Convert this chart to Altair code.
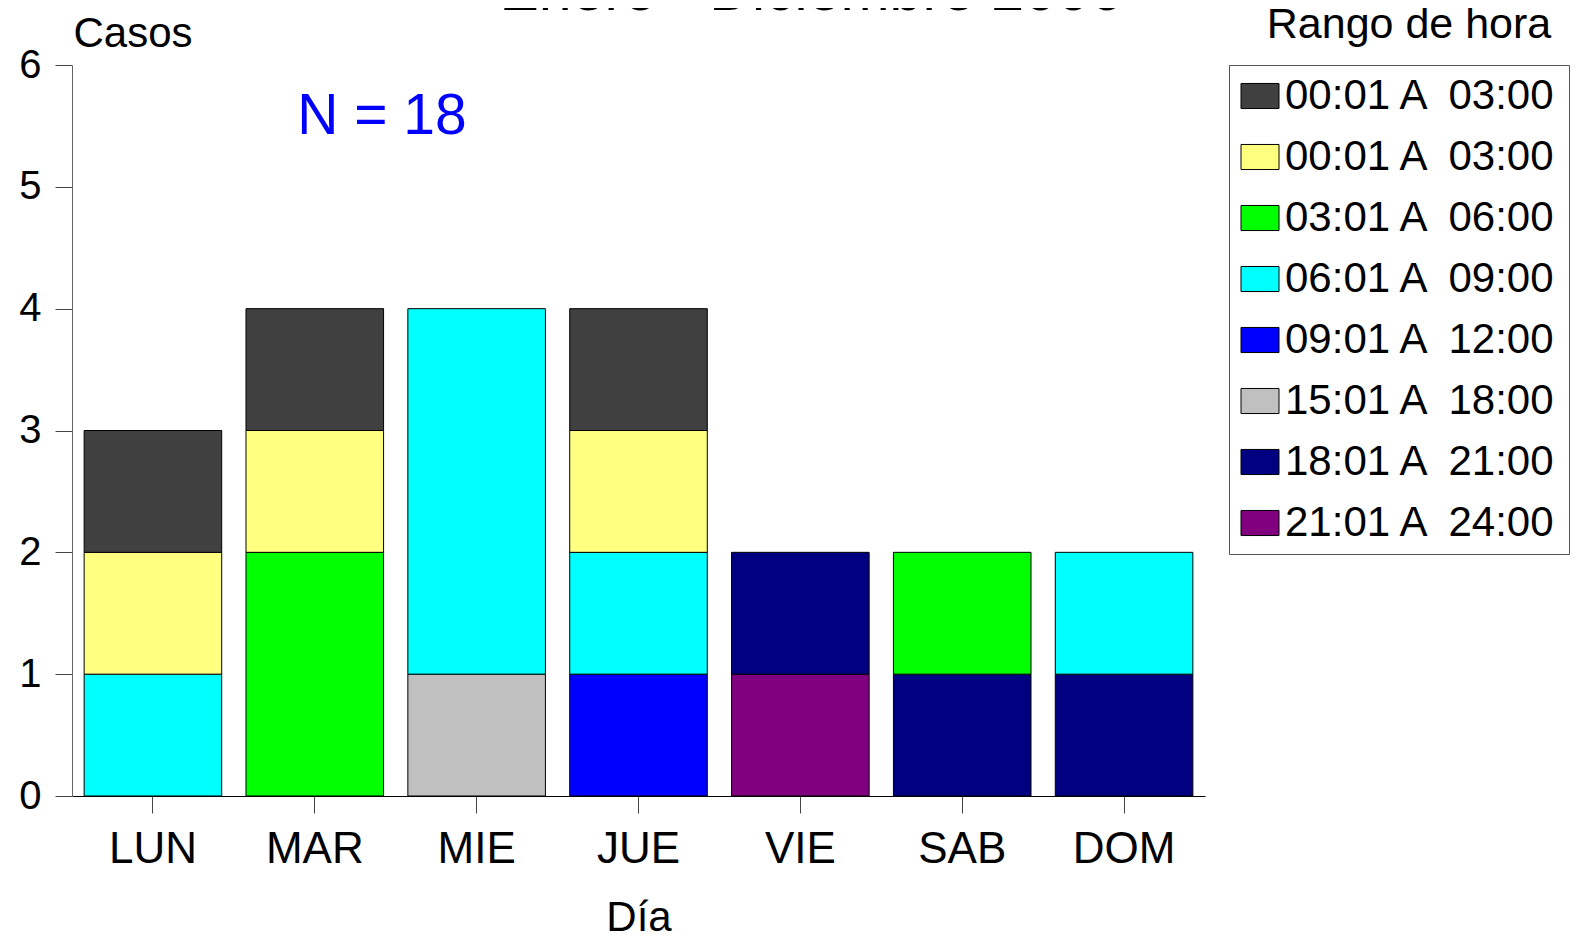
import altair as alt
import pandas as pd

# ---- data ----
dias = ["LUN", "MAR", "MIE", "JUE", "VIE", "SAB", "DOM"]
rango_keys = ["R1", "R2", "R3", "R4", "R5", "R6", "R7", "R8"]
rango_labels = [
    "00:01 A \u00a003:00",
    "00:01 A \u00a003:00",
    "03:01 A \u00a006:00",
    "06:01 A \u00a009:00",
    "09:01 A \u00a012:00",
    "15:01 A \u00a018:00",
    "18:01 A \u00a021:00",
    "21:01 A \u00a024:00",
]
rango_colors = ["#404040", "#ffff80", "#00ff00", "#00ffff", "#0000ff", "#c0c0c0", "#000080", "#800080"]

rec_dia = ["LUN", "LUN", "LUN", "MAR", "MAR", "MAR", "MIE", "MIE",
           "JUE", "JUE", "JUE", "JUE", "VIE", "VIE", "SAB", "SAB", "DOM", "DOM"]
rec_rango = ["R4", "R2", "R1", "R3", "R2", "R1", "R6", "R4",
             "R5", "R4", "R2", "R1", "R8", "R7", "R7", "R3", "R7", "R4"]
rec_casos = [1, 1, 1, 2, 1, 1, 1, 3,
             1, 1, 1, 1, 1, 1, 1, 1, 1, 1]

n_total = 18
titulo = "Enero - Diciembre 2006"
y_ticks = [0, 1, 2, 3, 4, 5, 6]

df = pd.DataFrame({
    "dia": rec_dia,
    "rango": rec_rango,
    "casos": rec_casos,
    "orden": [rango_keys.index(r) for r in rec_rango],
})

FONT = "Liberation Sans"

label_expr = "[" + ",".join("'" + l + "'" for l in rango_labels) + "][indexof([" + \
    ",".join("'" + k + "'" for k in rango_keys) + "], datum.label)]"

bars = alt.Chart(df).mark_bar(stroke="black", strokeWidth=1, opacity=1).encode(
    x=alt.X("dia:N", sort=dias, scale=alt.Scale(domain=dias, paddingInner=0.15),
            axis=alt.Axis(labelAngle=0, labelFontSize=44, labelFont=FONT, labelColor="black",
                          labelPadding=14, tickSize=17, tickColor="#444", domainColor="black",
                          title="Día", titleFontSize=42, titleFont=FONT, titleFontWeight="normal",
                          titleColor="black", titleY=134, titleBaseline="alphabetic")),
    y=alt.Y("sum(casos):Q", stack="zero", scale=alt.Scale(domain=[0, 6], nice=False),
            axis=alt.Axis(values=y_ticks, grid=False, labelFontSize=40, labelFont=FONT,
                          labelColor="black", labelPadding=14, tickSize=17, tickColor="#444",
                          domainColor="#666", title="Casos", titleAngle=0, titleAlign="left",
                          titleX=1, titleY=-32, titleBaseline="middle", titleFontSize=42,
                          titleFont=FONT, titleFontWeight="normal", titleColor="black")),
    color=alt.Color("rango:N", scale=alt.Scale(domain=rango_keys, range=rango_colors),
                    legend=alt.Legend(orient="none", legendX=1157, legendY=0, title=None,
                                      symbolType="M-1,-0.66L1,-0.66L1,0.66L-1,0.66Z",
                                      symbolSize=1444, symbolStrokeColor="black",
                                      symbolStrokeWidth=1, symbolOpacity=1,
                                      labelFontSize=42, labelFont=FONT, labelColor="black",
                                      labelOffset=4, labelLimit=500, rowPadding=19, padding=10,
                                      strokeColor="#555", labelExpr=label_expr)),
    order=alt.Order("orden:Q", sort="descending"),
)

n_text = alt.Chart(pd.DataFrame({"t": ["N = " + str(n_total)]})).mark_text(
    font=FONT, fontSize=57, color="#0000ff", align="center", baseline="middle"
).encode(text="t:N", x=alt.value(310), y=alt.value(52))

title_text = alt.Chart(pd.DataFrame({"t": [titulo]})).mark_text(
    font=FONT, fontSize=59, color="black", align="center", baseline="alphabetic"
).encode(text="t:N", x=alt.value(739), y=alt.value(-55))

legend_title = alt.Chart(pd.DataFrame({"t": ["Rango de hora"]})).mark_text(
    font=FONT, fontSize=43, color="black", align="center", baseline="middle"
).encode(text="t:N", x=alt.value(1337), y=alt.value(-40))

chart = alt.layer(bars, n_text, title_text, legend_title).properties(
    width=1133, height=731,
    autosize=alt.AutoSizeParams(type="none"),
    padding={"left": 64, "top": 57, "right": 370, "bottom": 135},
    background="white",
).configure_view(stroke=None)

chart.save("out.html", embed_options={"renderer": "svg", "actions": False})
